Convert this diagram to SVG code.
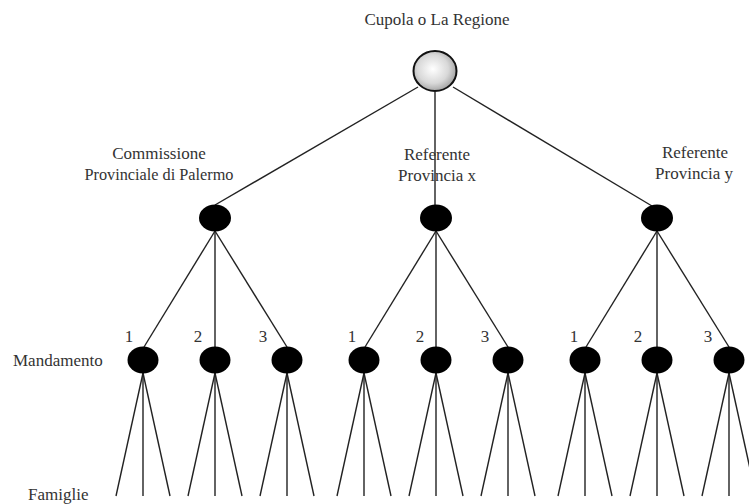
<svg xmlns="http://www.w3.org/2000/svg" width="749" height="504" viewBox="0 0 749 504">
<style>
text{font-family:"Liberation Serif","Times New Roman",serif;font-size:17px;fill:#333}
.c line{stroke:#222;stroke-width:1.4}
.n{fill:#000}
</style>
<defs>
<radialGradient id="g" cx="0.45" cy="0.45" r="0.6">
<stop offset="0" stop-color="#ffffff"/>
<stop offset="0.6" stop-color="#d8d8d8"/>
<stop offset="1" stop-color="#9a9a9a"/>
</radialGradient>
</defs>
<rect width="749" height="504" fill="#fff"/>
<g class="c" id="connectors">
<line x1="418" y1="87" x2="215" y2="205"/>
<line x1="435" y1="92" x2="435" y2="205"/>
<line x1="453" y1="87" x2="652" y2="206"/>
<line x1="215" y1="231" x2="144" y2="347"/>
<line x1="215" y1="231" x2="215" y2="347"/>
<line x1="215" y1="231" x2="287" y2="347"/>
<line x1="436" y1="231" x2="365" y2="347"/>
<line x1="436" y1="231" x2="436" y2="347"/>
<line x1="436" y1="231" x2="508" y2="347"/>
<line x1="657" y1="231" x2="586" y2="347"/>
<line x1="657" y1="231" x2="657" y2="347"/>
<line x1="657" y1="231" x2="729" y2="347"/>
<g id="famiglie-lines">
<line x1="143" y1="373" x2="116" y2="496"/><line x1="143" y1="373" x2="143" y2="496"/><line x1="143" y1="373" x2="170" y2="496"/>
<line x1="215" y1="373" x2="188" y2="496"/><line x1="215" y1="373" x2="215" y2="496"/><line x1="215" y1="373" x2="242" y2="496"/>
<line x1="287" y1="373" x2="260" y2="496"/><line x1="287" y1="373" x2="287" y2="496"/><line x1="287" y1="373" x2="314" y2="496"/>
<line x1="364" y1="373" x2="337" y2="496"/><line x1="364" y1="373" x2="364" y2="496"/><line x1="364" y1="373" x2="391" y2="496"/>
<line x1="436" y1="373" x2="409" y2="496"/><line x1="436" y1="373" x2="436" y2="496"/><line x1="436" y1="373" x2="463" y2="496"/>
<line x1="508" y1="373" x2="481" y2="496"/><line x1="508" y1="373" x2="508" y2="496"/><line x1="508" y1="373" x2="535" y2="496"/>
<line x1="585" y1="373" x2="558" y2="496"/><line x1="585" y1="373" x2="585" y2="496"/><line x1="585" y1="373" x2="612" y2="496"/>
<line x1="657" y1="373" x2="630" y2="496"/><line x1="657" y1="373" x2="657" y2="496"/><line x1="657" y1="373" x2="684" y2="496"/>
<line x1="729" y1="373" x2="702" y2="496"/><line x1="729" y1="373" x2="729" y2="496"/><line x1="729" y1="373" x2="756" y2="496"/>
</g>
</g>
<g id="cupola">
<ellipse cx="435" cy="71" rx="21.5" ry="20" fill="url(#g)" stroke="#111" stroke-width="2"/>
<text x="437" y="25" text-anchor="middle">Cupola o La Regione</text>
</g>
<g id="palermo">
<ellipse class="n" cx="215" cy="218" rx="16" ry="13.5"/>
<text x="159" y="159" text-anchor="middle">Commissione</text>
<text x="159" y="180" text-anchor="middle" textLength="149" lengthAdjust="spacingAndGlyphs">Provinciale di Palermo</text>
</g>
<g id="provincia-x">
<ellipse class="n" cx="436" cy="218" rx="16" ry="13.5"/>
<text x="437" y="160" text-anchor="middle">Referente</text>
<text x="437" y="181" text-anchor="middle">Provincia x</text>
</g>
<g id="provincia-y">
<ellipse class="n" cx="657" cy="218" rx="16" ry="13.5"/>
<text x="695" y="158" text-anchor="middle">Referente</text>
<text x="694" y="179" text-anchor="middle">Provincia y</text>
</g>
<g id="mandamenti">
<g id="m-p1"><ellipse class="n" cx="143" cy="360" rx="15.5" ry="13.5"/><text x="129" y="342" text-anchor="middle">1</text></g>
<g id="m-p2"><ellipse class="n" cx="215" cy="360" rx="15.5" ry="13.5"/><text x="198" y="342" text-anchor="middle">2</text></g>
<g id="m-p3"><ellipse class="n" cx="287" cy="360" rx="15.5" ry="13.5"/><text x="263" y="342" text-anchor="middle">3</text></g>
<g id="m-x1"><ellipse class="n" cx="364" cy="360" rx="15.5" ry="13.5"/><text x="352" y="342" text-anchor="middle">1</text></g>
<g id="m-x2"><ellipse class="n" cx="436" cy="360" rx="15.5" ry="13.5"/><text x="420" y="342" text-anchor="middle">2</text></g>
<g id="m-x3"><ellipse class="n" cx="508" cy="360" rx="15.5" ry="13.5"/><text x="485" y="342" text-anchor="middle">3</text></g>
<g id="m-y1"><ellipse class="n" cx="585" cy="360" rx="15.5" ry="13.5"/><text x="574" y="342" text-anchor="middle">1</text></g>
<g id="m-y2"><ellipse class="n" cx="657" cy="360" rx="15.5" ry="13.5"/><text x="638" y="342" text-anchor="middle">2</text></g>
<g id="m-y3"><ellipse class="n" cx="729" cy="360" rx="15.5" ry="13.5"/><text x="708" y="342" text-anchor="middle">3</text></g>
</g>
<text x="13" y="366">Mandamento</text>
<text x="28" y="500">Famiglie</text>
</svg>
